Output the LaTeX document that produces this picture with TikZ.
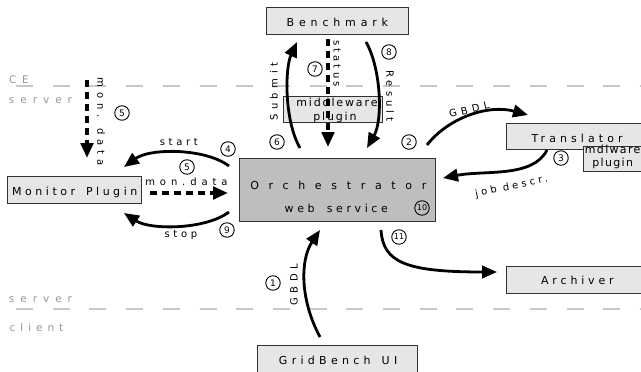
\documentclass[tikz,border=0pt]{standalone}
\usepackage{fontspec}
\setmainfont{DejaVu Sans}
\usetikzlibrary{arrows.meta}
\definecolor{boxfill}{HTML}{E6E6E6}
\definecolor{corefill}{HTML}{BEBEBE}
\definecolor{edge}{HTML}{333333}
\definecolor{zoneline}{HTML}{C8C8C8}
\definecolor{zonetext}{HTML}{969696}
% letter-spaced text, padded on the left so that it stays centred
\newcommand\spread[2]{\addfontfeature{LetterSpace=#1}\hspace*{\fpeval{#1/100}em}#2}
\tikzset{
  box/.style={draw=edge, fill=boxfill, line width=0.8pt, inner sep=0pt},
  core/.style={box, fill=corefill},
  boxtext/.style={font=\fontsize{11}{12}\selectfont, inner sep=0pt, anchor=base},
  lbl/.style={font=\fontsize{10}{11}\selectfont, inner sep=0pt},
  zonetxt/.style={font=\fontsize{10.5}{11}\selectfont, text=zonetext, inner sep=0pt, anchor=base},
  zone/.style={draw=zoneline, line width=1.8pt, dash pattern=on 17pt off 19.7pt},
  flow/.style={line width=2.8pt, -{Triangle[length=15pt,width=12.5pt]}},
  dflow/.style={flow, line width=3.6pt, dash pattern=on 7pt off 5pt},
  num/.style={circle, draw, line width=0.9pt, minimum size=14.5pt, inner sep=0pt,
              font=\fontsize{9}{9}\selectfont},
  num2/.style={num, font=\fontsize{8}{8}\selectfont}
}
\begin{document}
\begin{tikzpicture}[x=1pt,y=-1pt]
\useasboundingbox (0,0) rectangle (641,372);
\clip (0,0) rectangle (641,372);

% zone separators and their captions
\draw[zone] (16,86) -- (641,86);
\draw[zone] (16,309) -- (641,309);
\node[zonetxt] (ce) at (16,83) {\spread{55}{CE}};
\node[zonetxt] (srvA) at (37.5,103) {\spread{57}{server}};
\node[zonetxt] (srvB) at (37.5,302) {\spread{57}{server}};
\node[zonetxt] (cli) at (34,331) {\spread{47}{client}};

% components
\node[box, minimum width=142, minimum height=27] (bench) at (337,20.5) {};
\node[boxtext] (benchT) at (335,27) {\spread{44}{Benchmark}};

\node[box, minimum width=134, minimum height=27] (mon) at (74,189.5) {};
\node[boxtext] (monT) at (73,195) {\spread{32}{Monitor\hspace{0.35em} Plugin}};

\node[core, minimum width=196, minimum height=63] (orch) at (337,189.5) {};
\node[boxtext] (orchT) at (333.5,189) {\spread{88}{Orchestrator}};
\node[boxtext] (orchW) at (334.5,212) {\spread{33}{web\hspace{0.45em} service}};

\node[box, minimum width=99, minimum height=26] (mwp) at (332.5,109) {};
\node[boxtext] (mwpA) at (336,106) {\spread{17}{middleware}};
\node[boxtext] (mwpB) at (334,120) {\spread{17}{plugin}};

\node[box, minimum width=150, minimum height=26, anchor=west] (trans) at (506,136) {};
\node[boxtext] (transT) at (575,142) {\spread{37}{Translator}};
\node[box, minimum width=70, minimum height=25, anchor=west] (mdl) at (583,158.5) {};
\node[boxtext] (mdlA) at (612,153) {\spread{12}{mdlware}};
\node[boxtext] (mdlB) at (612,166) {\spread{12}{plugin}};

\node[box, minimum width=150, minimum height=27, anchor=west] (arch) at (506,279.5) {};
\node[boxtext] (archT) at (575.5,284) {\spread{35}{Archiver}};

\node[box, minimum width=160, minimum height=32, anchor=north] (gui) at (337,345) {};
\node[boxtext] (guiT) at (336,364) {\spread{39}{GridBench\hspace{0.3em} UI}};

% connector end points
\coordinate (subA) at (300,148);  \coordinate (subB) at (297,42);
\coordinate (resA) at (366,42);   \coordinate (resB) at (367,148);
\coordinate (stA)  at (328,39);   \coordinate (stB)  at (328,147);
\coordinate (gbA)  at (427,145);  \coordinate (gbB)  at (528,115);
\coordinate (jobA) at (547,150);  \coordinate (jobB) at (443,178);
\coordinate (startA) at (229,166); \coordinate (startB) at (124,167);
\coordinate (stopA)  at (229,212); \coordinate (stopB)  at (124,213);
\coordinate (mdA) at (150,193);   \coordinate (mdB) at (228,193);
\coordinate (mvA) at (87,80);     \coordinate (mvB) at (87,158);
\coordinate (uiA) at (320,337);   \coordinate (uiB) at (320,230);
\coordinate (arA) at (381,230);   \coordinate (arB) at (497,272);

% flows
\draw[flow] (subA) .. controls (284,120) and (285,68) .. (subB);
\draw[flow] (resA) .. controls (381,68) and (383,120) .. (resB);
\draw[dflow] (stA) -- (stB);
\draw[flow] (gbA) .. controls (448,118) and (488,104) .. (gbB);
\draw[flow] (jobA) .. controls (533,178) and (485,170) .. (jobB);
\draw[flow] (startA) .. controls (205,148) and (150,148) .. (startB);
\draw[flow] (stopA) .. controls (205,230) and (150,230) .. (stopB);
\draw[dflow] (mdA) -- (mdB);
\draw[dflow] (mvA) -- (mvB);
\draw[flow] (uiA) .. controls (300,300) and (300,260) .. (uiB);
\draw[flow] (arA) .. controls (383,262) and (405,272) .. (arB);

% flow labels
\node[lbl, rotate=90] (lSub) at (274,94) {\spread{45}{Submit}};
\node[lbl, rotate=-90] (lRes) at (390,94) {\spread{41}{Result}};
\node[lbl, rotate=-90] (lSt) at (337,62) {\spread{31}{status}};
\node[lbl, rotate=14] (lGb) at (467,110) {\spread{44}{GBDL}};
\node[lbl, rotate=12] (lJob) at (510,187) {\spread{32}{job descr.}};
\node[lbl, anchor=base] (lStart) at (177,145.7) {\spread{37}{start}};
\node[lbl, anchor=base] (lStop) at (179,237.5) {\spread{37}{stop}};
\node[lbl, anchor=base] (lMd) at (184,185.7) {\spread{49}{mon.data}};
\node[lbl, rotate=-90] (lMv) at (101,119) {\spread{49}{mon. data}};
\node[lbl, rotate=90] (lUi) at (294,287) {\spread{44}{GBDL}};

% step numbers
\node[num] (n1) at (273,283) {1};
\node[num] (n2) at (409,142) {2};
\node[num] (n3) at (561,158) {3};
\node[num] (n4) at (228,149) {4};
\node[num] (n5) at (187,167) {5};
\node[num] (n5b) at (122,113) {5};
\node[num] (n6) at (277,142) {6};
\node[num] (n7) at (315,69) {7};
\node[num] (n8) at (389,52) {8};
\node[num] (n9) at (227,230) {9};
\node[num2] (n10) at (422,208) {10};
\node[num2] (n11) at (399,237) {11};
\end{tikzpicture}
\end{document}
